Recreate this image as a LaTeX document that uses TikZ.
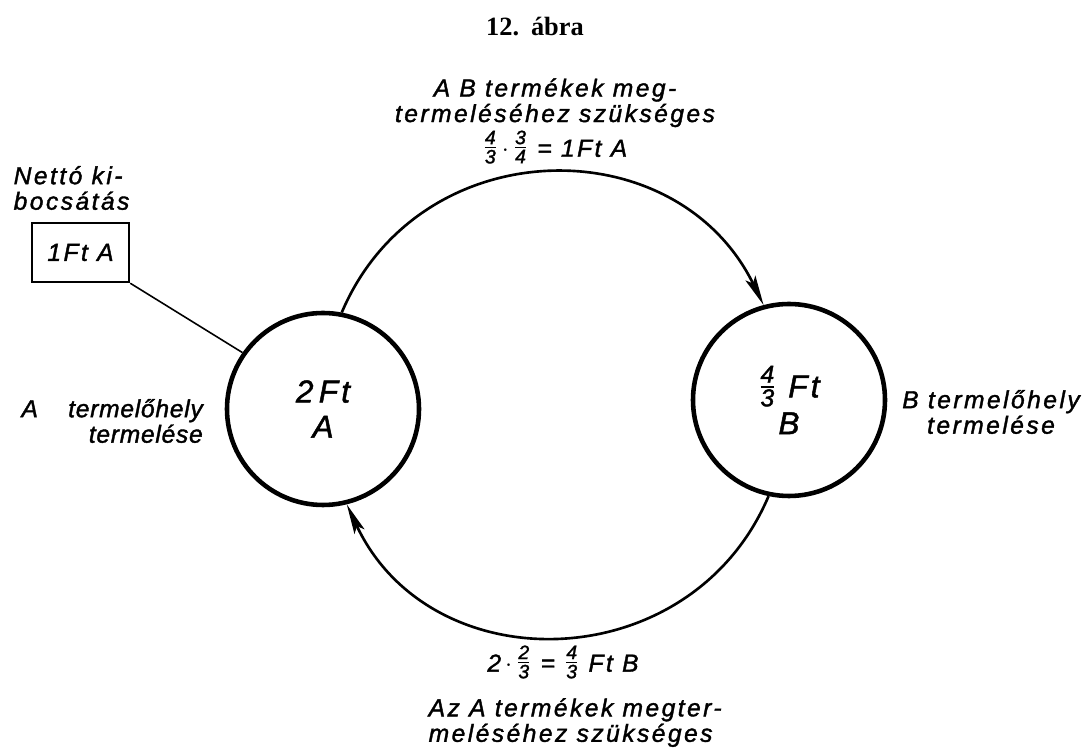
\documentclass[tikz,border=0pt]{standalone}
\usepackage{fontspec}
\usepackage{amsmath}
\setmainfont{Liberation Serif}
\newfontfamily\letterfont{Liberation Sans}[LetterSpace=10, FakeBold=1.5]
\newfontfamily\tightfont{Liberation Sans}[LetterSpace=3, FakeBold=1.5]
\newfontfamily\digitfont{Liberation Sans}[FakeBold=1.5]
\usetikzlibrary{arrows.meta,positioning,calc}

% stacked fraction in the lettering font
\newcommand{\fr}[3][11]{\raisebox{1.5pt}{$\genfrac{}{}{0.8pt}{1}{\text{\digitfont\itshape\fontsize{#1}{#1}\selectfont#2}}{\text{\digitfont\itshape\fontsize{#1}{#1}\selectfont#3}}$}}

\tikzset{
    lettering/.style={font=\letterfont\itshape\fontsize{14}{14.5}\selectfont},
    plant/.style={circle, draw, line width=2.6pt, minimum size=3.84cm, inner sep=0pt, align=center,
        font=\letterfont\itshape\fontsize{18}{20}\selectfont},
    flow/.style={line width=1.5pt, -{Stealth[length=6mm,width=2.2mm,inset=1.2mm]}},
}

\begin{document}
\begin{tikzpicture}
    \useasboundingbox (0,0) rectangle (21.76,15.04);

    % Title
    \node[font=\bfseries\fontsize{15}{16}\selectfont] (title) at (10.7,14.5) {12.\hspace{0.45em}ábra};

    % Plants
    \node[plant] (plantA) at (6.46,6.86) {2\,Ft\\A};
    \node[plant] (plantB) at (15.78,7.04) {\fr[14]{4}{3} Ft\\[1pt]B};

    % Net output
    \node[draw, line width=1.4pt, minimum width=1.94cm, minimum height=1.18cm, lettering] (netbox) at (1.61,9.99) {1Ft A};
    \node[anchor=west, align=left, lettering] (netlabel) at (0.15,11.28) {Nettó ki-\\bocsátás};
    \draw[line width=0.9pt] (netbox.south east) -- (plantA.145);

    % Plant labels
    \node[anchor=east, align=right, font=\tightfont\itshape\fontsize{14}{14.5}\selectfont] (labelA) at (4.18,6.62) {A\ \ \ \ termelőhely\\termelése};
    \node[align=center, lettering] (labelB) at (19.82,6.8) {B termelőhely\\termelése};

    % Flows
    \draw[flow] (plantA.79) to[out=67, in=116, distance=3.97cm] (plantB.105);
    \draw[flow] (plantB.258) to[out=247, in=-65, distance=3.97cm] (plantA.284);

    % Flow labels
    \node[align=center, lettering] (topflow) at (11.1,12.62) {A B termékek meg-\\termeléséhez szükséges\\[1pt]\fr{4}{3}\,$\cdot$\,\fr{3}{4} = 1Ft A};
    \node[lettering] (botcalc) at (11.26,1.8) {2\,$\cdot$\,\fr{2}{3} = \fr{4}{3} Ft B};
    \node[anchor=north west, align=left, lettering] (botflow) at (8.45,1.2) {Az A termékek megter-\\meléséhez szükséges};
\end{tikzpicture}
\end{document}
